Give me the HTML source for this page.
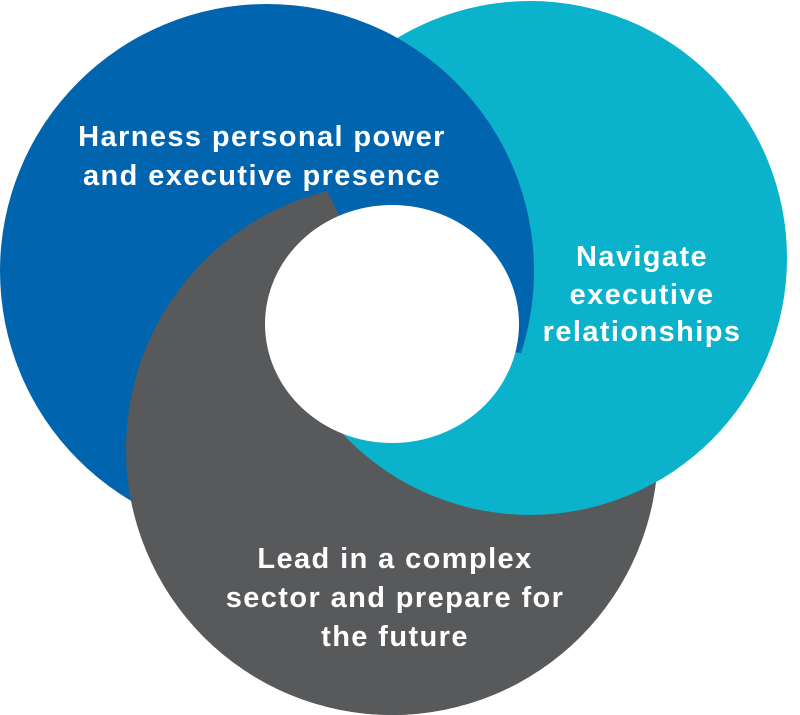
<!DOCTYPE html>
<html><head><style>
html,body{margin:0;padding:0;background:#fff;}
svg{display:block;}
text{font-family:"Liberation Sans",sans-serif;font-weight:bold;fill:#fff;font-size:29px;letter-spacing:1.4px;text-anchor:middle;}
</style></head><body>
<svg width="800" height="715" viewBox="0 0 800 715" xmlns="http://www.w3.org/2000/svg">
<defs>
<clipPath id="w1"><polygon points="392,324 117,-241 -500,-241 -500,1500 1500,1500 1622,604"/></clipPath>
<clipPath id="w2"><polygon points="392,324 1622,604 1622,1500 -981,1500"/></clipPath>
</defs>
<circle cx="392" cy="449" r="266" fill="#58595b"/>
<circle cx="530" cy="258" r="257" fill="#0bb2cc"/>
<circle cx="267" cy="271" r="267" fill="#0065ae"/>
<circle cx="392" cy="449" r="266" fill="#58595b" clip-path="url(#w1)"/>
<circle cx="530" cy="258" r="257" fill="#0bb2cc" clip-path="url(#w2)"/>
<ellipse cx="392" cy="324" rx="127" ry="119" fill="#fff"/>
<text x="262" y="146">Harness personal power</text>
<text x="262" y="185">and executive presence</text>
<text x="642" y="266">Navigate</text>
<text x="642" y="304">executive</text>
<text x="642" y="341">relationships</text>
<text x="395" y="568">Lead in a complex</text>
<text x="395" y="607">sector and prepare for</text>
<text x="395" y="646">the future</text>
</svg>
</body></html>
